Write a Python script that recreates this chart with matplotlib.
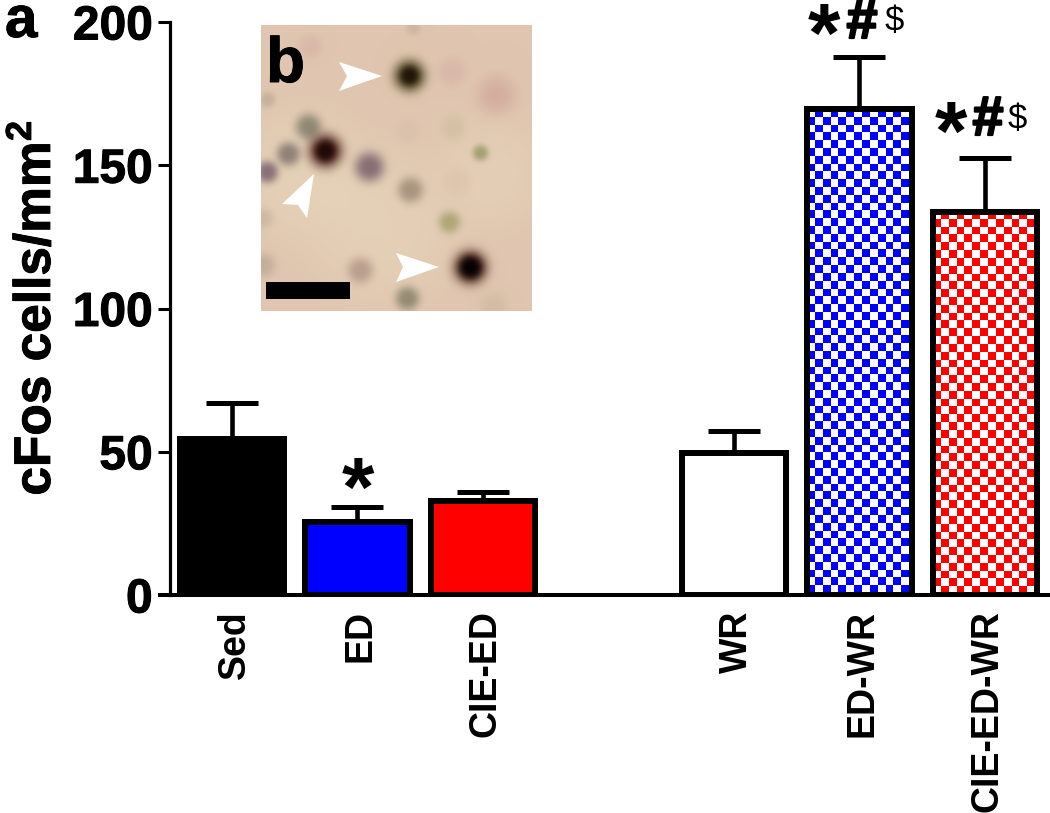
import numpy as np
import matplotlib
matplotlib.use('Agg')
import matplotlib.pyplot as plt
import matplotlib.patheffects as pe
from matplotlib.colors import ListedColormap
from matplotlib.patches import Polygon
from matplotlib.transforms import ScaledTranslation

plt.rcParams['font.family'] = ['Liberation Sans', 'DejaVu Sans']
plt.rcParams['mathtext.fontset'] = 'custom'
plt.rcParams['mathtext.bf'] = 'Liberation Sans:bold'
plt.rcParams['mathtext.rm'] = 'Liberation Sans:bold'

# bar data
groups = ['Sed', 'ED', 'CIE-ED', 'WR', 'ED-WR', 'CIE-ED-WR']
positions = [1, 2, 3, 5, 6, 7]
means = [54.5, 25.5, 32.8, 49.6, 169.5, 133.7]
errors = [12.5, 5.2, 3.2, 7.6, 18.3, 18.9]
fills = ['black', 'blue', 'red', 'white', 'white', 'white']
checks = [None, None, None, None, 'blue', 'red']
y_ticks = [0, 50, 100, 150, 200]

# micrograph spots, in its own pixels
spot_x = [120, 40, 230, 235, 191, 49, 152, 146, 192, 196, 6, 2, 2, 232, 27, 47, 108, 6, 149, 219, 188, 99, 146, 148, 148, 64, 64, 209, 209]
spot_y = [200, 150, 150, 70, 47, 22, 3, 107, 103, 157, 75, 193, 240, 280, 129, 102, 142, 147, 165, 128, 197, 245, 273, 51, 51, 126, 126, 242, 242]
spot_r = [70, 60, 50, 20, 15, 12, 8, 12, 12, 14, 8, 10, 12, 14, 12, 13, 15, 11, 13, 8, 11, 13, 12, 16, 9, 17, 10, 17, 11]
spot_a = [.5, .5, .4, .6, .35, .35, .5, .25, .5, .35, .45, .4, .5, .35, .8, .8, .85, .8, .75, .8, .75, .65, .8, .95, .95, .95, .95, .95, 1]
spot_r_c = [233, 233, 233, 205, 205, 205, 185, 205, 200, 215, 170, 180, 170, 190, 125, 125, 120, 115, 150, 150, 160, 165, 130, 70, 30, 75, 30, 70, 5]
spot_g_c = [218, 218, 218, 160, 160, 160, 170, 180, 185, 185, 150, 160, 150, 170, 110, 120, 95, 90, 130, 150, 155, 135, 125, 60, 20, 30, 8, 30, 2]
spot_b_c = [190, 190, 190, 150, 155, 155, 140, 160, 150, 160, 135, 140, 135, 140, 105, 100, 105, 105, 110, 100, 100, 125, 100, 25, 8, 25, 5, 20, 2]

heavy = [pe.withStroke(linewidth=0.7, foreground='black')]

fig = plt.figure(figsize=(10.5, 8.13), dpi=100)
ax = fig.add_axes([170 / 1050, (813 - 595) / 813, 880 / 1050, 573 / 813])

for x, m, e, f, c in zip(positions, means, errors, fills, checks):
    ax.errorbar(x, m, yerr=[[0], [e]], color='black', elinewidth=3.3, capsize=18.5, capthick=3.6, zorder=2)
    bar = ax.bar(x, m, width=0.83, color=f, edgecolor='black', linewidth=4.3, zorder=3)[0]
    if c is not None:
        # checkerboard fill, cells about 8 px
        cell = 7.8
        rows = int(m * 2.865 / cell) + 1
        cols = int(0.83 * 125.5 / cell) + 1
        ii, jj = np.indices((rows, cols))
        board = (ii + jj) % 2
        extent = [x - 0.415, x - 0.415 + cols * cell / 125.5, m - rows * cell / 2.865, m]
        im = ax.imshow(board, cmap=ListedColormap(['white', c]), extent=extent, aspect='auto',
                       interpolation='nearest', zorder=2.5)
        im.set_clip_path(bar)
        bar.set_facecolor('none')
ax.set_xlim(0.506, 7.518)
ax.set_ylim(0, 200)

for s in ['top', 'right']:
    ax.spines[s].set_visible(False)
ax.spines['left'].set_linewidth(2.3)
ax.spines['bottom'].set_linewidth(2.9)
ax.set_yticks(y_ticks)
ax.tick_params(axis='y', length=8.5, width=2.2, labelsize=34.5, pad=4)
for t in ax.get_yticklabels():
    t.set_fontweight('bold')
    t.set_path_effects(heavy)
ax.get_yticklines()[0].set_markeredgewidth(2.9)
ax.set_xticks(positions)
ax.set_xticklabels(groups, rotation=90, fontsize=27, fontweight='bold')
ax.tick_params(axis='x', length=0, pad=11)
# nudge the group names right a little
for t in ax.get_xticklabels():
    t.set_transform(t.get_transform() + ScaledTranslation(3 / 100, 0, fig.dpi_scale_trans))

fig.text(50 / 1050, 1 - 308 / 813, r'cFos cells/mm$\mathbf{^2}$', fontsize=37, fontweight='bold',
         rotation=90, ha='center', va='baseline', rotation_mode='anchor', path_effects=heavy)

# significance marks
fig.text(358 / 1050, 1 - 516 / 813, '*', fontsize=60, fontweight='bold', ha='center', va='baseline')
for x0, base in [(824, 62), (951, 160)]:
    fig.text(x0 / 1050, 1 - base / 813, '*', fontsize=60, fontweight='bold', ha='center', va='baseline')
for x0, base in [(862, 38), (988, 135)]:
    fig.text(x0 / 1050, 1 - base / 813, '#', fontsize=40, fontweight='bold', ha='center', va='baseline',
             path_effects=[pe.withStroke(linewidth=1.6, foreground='black')])
for x0, base in [(894, 31), (1017, 129)]:
    fig.text(x0 / 1050, 1 - base / 813, '$', fontsize=25, ha='center', va='baseline', parse_math=False,
             fontweight='normal')

fig.text(5 / 1050, 1 - 37 / 813, 'a', fontsize=42, fontweight='bold', path_effects=heavy)

# inset micrograph
inset = fig.add_axes([261 / 1050, (813 - 311) / 813, 271 / 1050, 286 / 813])
H, W = 286, 271
yy, xx = np.mgrid[0:H, 0:W]
photo = np.ones((H, W, 3)) * np.array([224, 198, 176])
for sx, sy, sr, sa, r, g, b in zip(spot_x, spot_y, spot_r, spot_a, spot_r_c, spot_g_c, spot_b_c):
    d = np.sqrt((xx - sx) ** 2 + (yy - sy) ** 2) / sr
    a = (sa * np.exp(-d ** 3))[..., None]
    photo = photo * (1 - a) + np.array([r, g, b]) * a
inset.imshow(photo / 255, extent=[0, W, H, 0], aspect='auto', interpolation='bilinear')
inset.axis('off')

arrow_shapes = [
    [(121, 51), (78, 37), (86, 51), (78, 66)],
    [(53, 149), (21, 179), (37, 180), (46, 193)],
    [(178, 242), (135, 228), (142, 242), (135, 257)],
]
for pts in arrow_shapes:
    inset.add_patch(Polygon(pts, closed=True, facecolor='white', edgecolor='none'))
inset.fill_between([5, 89], 257, 274, color='black', linewidth=0)
inset.text(5, 57, 'b', fontsize=46, fontweight='bold', color='black', path_effects=heavy)
inset.set_xlim(0, W)
inset.set_ylim(H, 0)

fig.savefig('out.png', dpi=100)
